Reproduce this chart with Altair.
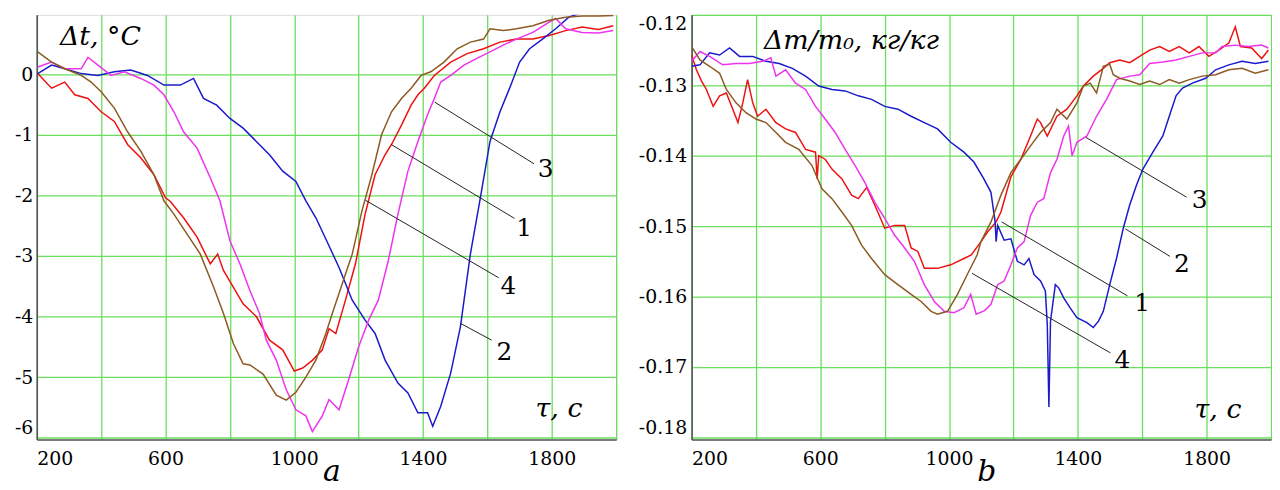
import altair as alt
import pandas as pd

SERIF = "DejaVu Serif"
GREEN = "#6ade5c"
AXISGRAY = "#555555"

CURVE_NAMES = ["1", "2", "3", "4"]
CURVE_COLORS = ["#ee1111", "#1a1acc", "#ee33ee", "#8c5a22"]

GRID_X = [200, 400, 600, 800, 1000, 1200, 1400, 1600, 1800, 2000]
LABEL_X = [200, 600, 1000, 1400, 1800]

# ---------------- panel a : Δt, °C ----------------
A_Y_TICKS = [-6, -5, -4, -3, -2, -1, 0]
A_Y_DOMAIN = [-6.03, 0.98]

A1 = [(203, 0.01), (246, -0.23), (287, -0.13), (318, -0.34), (359, -0.40), (400, -0.62), (441, -0.78),
      (482, -1.16), (523, -1.38), (564, -1.66), (600, -2.04), (615, -2.10), (656, -2.37), (698, -2.69),
      (739, -3.13), (762, -2.97), (780, -3.24), (800, -3.42), (841, -3.79), (882, -4.00), (923, -4.39),
      (964, -4.55), (1000, -4.90), (1026, -4.85), (1057, -4.72), (1087, -4.55), (1108, -4.20),
      (1129, -4.28), (1159, -3.73), (1190, -3.13), (1220, -2.31), (1251, -1.66), (1282, -1.33),
      (1302, -1.16), (1333, -0.84), (1363, -0.51), (1384, -0.34), (1404, -0.23), (1435, -0.02),
      (1486, 0.20), (1537, 0.34), (1588, 0.42), (1639, 0.53), (1690, 0.58), (1741, 0.58), (1792, 0.64),
      (1843, 0.72), (1894, 0.78), (1945, 0.74), (1991, 0.80)]
A2 = [(203, 0.01), (246, 0.15), (287, 0.09), (338, 0.01), (390, -0.02), (441, 0.04), (492, 0.07),
      (544, -0.02), (595, -0.18), (646, -0.18), (687, -0.07), (718, -0.40), (759, -0.51), (800, -0.73),
      (841, -0.89), (882, -1.11), (923, -1.33), (964, -1.60), (1005, -1.77), (1036, -2.09), (1067, -2.37),
      (1098, -2.72), (1139, -3.19), (1180, -3.73), (1220, -4.06), (1251, -4.28), (1282, -4.72),
      (1322, -5.10), (1353, -5.26), (1384, -5.59), (1414, -5.59), (1430, -5.81), (1455, -5.48),
      (1486, -4.93), (1516, -4.17), (1547, -2.97), (1578, -2.04), (1608, -1.11), (1639, -0.62),
      (1669, -0.23), (1700, 0.20), (1731, 0.42), (1771, 0.58), (1812, 0.75), (1853, 0.94), (1884, 1.00),
      (1910, 1.05)]
A3 = [(203, 0.12), (246, 0.20), (287, 0.09), (338, 0.09), (359, 0.28), (390, 0.15), (431, -0.02),
      (472, 0.04), (523, -0.07), (564, -0.18), (595, -0.34), (626, -0.62), (656, -0.95), (698, -1.22),
      (739, -1.71), (769, -2.09), (800, -2.75), (831, -3.13), (862, -3.57), (892, -3.95), (913, -4.39),
      (944, -4.72), (975, -5.21), (1005, -5.54), (1036, -5.64), (1056, -5.90), (1087, -5.64),
      (1108, -5.37), (1139, -5.54), (1169, -5.04), (1200, -4.50), (1231, -4.06), (1261, -3.73),
      (1292, -3.08), (1322, -2.31), (1353, -1.60), (1384, -1.11), (1414, -0.67), (1435, -0.40),
      (1455, -0.13), (1486, -0.02), (1527, 0.15), (1567, 0.26), (1608, 0.37), (1649, 0.48), (1690, 0.58),
      (1741, 0.69), (1792, 0.86), (1812, 0.92), (1843, 0.75), (1894, 0.69), (1945, 0.68), (1991, 0.72)]
A4 = [(203, 0.37), (246, 0.20), (287, 0.09), (338, -0.02), (369, -0.13), (400, -0.29), (441, -0.56),
      (482, -0.95), (523, -1.27), (564, -1.66), (595, -2.09), (626, -2.31), (667, -2.64), (708, -2.97),
      (749, -3.51), (780, -3.95), (811, -4.45), (841, -4.78), (862, -4.80), (903, -4.95), (944, -5.30),
      (975, -5.38), (1005, -5.25), (1036, -5.00), (1067, -4.72), (1098, -4.28), (1118, -3.95),
      (1149, -3.46), (1180, -2.97), (1210, -2.26), (1241, -1.66), (1271, -1.00), (1302, -0.62),
      (1333, -0.40), (1363, -0.23), (1394, -0.02), (1424, 0.04), (1465, 0.20), (1506, 0.42), (1547, 0.53),
      (1588, 0.58), (1608, 0.75), (1649, 0.72), (1690, 0.75), (1741, 0.80), (1792, 0.89), (1843, 0.94),
      (1894, 0.96), (1945, 0.96), (1991, 0.97)]

# leader lines: curve, x start, y start, x end, y end ; number label position
A_LEADERS = [("3", 1436, -0.46, 1745, -1.48), ("1", 1301, -1.16, 1684, -2.38),
             ("4", 1221, -2.08, 1635, -3.36), ("2", 1515, -4.11, 1613, -4.39)]
A_NUMBERS = [("3", 1781, -1.56), ("1", 1714, -2.54), ("4", 1665, -3.49), ("2", 1653, -4.59)]
A_TITLE_TOP = [("Δt, °C", 272, 0.49)]
A_TITLE_BOTTOM = [("τ, c", 1895, -5.66)]

# ---------------- panel b : Δm/m0, кг/кг ----------------
B_Y_TICKS = [-0.18, -0.17, -0.16, -0.15, -0.14, -0.13, -0.12]
B_Y_DOMAIN = [-0.1803, -0.12]

B1 = [(200, -0.1257), (215, -0.1278), (231, -0.1294), (246, -0.1306), (267, -0.1330), (287, -0.1315),
      (308, -0.1311), (328, -0.1334), (344, -0.1353), (359, -0.1325), (374, -0.1292), (390, -0.1325),
      (405, -0.1344), (431, -0.1334), (462, -0.1353), (492, -0.1362), (523, -0.1367), (554, -0.1391),
      (585, -0.1395), (590, -0.1433), (595, -0.1400), (615, -0.1405), (636, -0.1419), (667, -0.1433),
      (697, -0.1456), (718, -0.1461), (744, -0.1445), (769, -0.1470), (800, -0.1503), (831, -0.1499),
      (862, -0.1499), (882, -0.1531), (903, -0.1536), (923, -0.1560), (964, -0.1560), (1005, -0.1555),
      (1046, -0.1546), (1069, -0.1541), (1099, -0.1522), (1120, -0.1508), (1146, -0.1494),
      (1161, -0.1480), (1192, -0.1430), (1223, -0.1405), (1253, -0.1372), (1274, -0.1348),
      (1284, -0.1353), (1305, -0.1372), (1335, -0.1344), (1366, -0.1334), (1397, -0.1315),
      (1417, -0.1301), (1448, -0.1287), (1479, -0.1276), (1499, -0.1268), (1530, -0.1264),
      (1561, -0.1268), (1592, -0.1259), (1623, -0.1250), (1654, -0.1245), (1684, -0.1252),
      (1715, -0.1245), (1746, -0.1254), (1776, -0.1245), (1807, -0.1259), (1838, -0.1250),
      (1869, -0.1240), (1889, -0.1217), (1905, -0.1245), (1940, -0.1247), (1971, -0.1262),
      (1992, -0.1250)]
B2 = [(200, -0.1273), (226, -0.1271), (256, -0.1254), (287, -0.1257), (318, -0.1247), (349, -0.1259),
      (390, -0.1259), (431, -0.1266), (472, -0.1269), (513, -0.1276), (554, -0.1287), (595, -0.1301),
      (636, -0.1306), (677, -0.1308), (718, -0.1315), (759, -0.1320), (800, -0.1330), (841, -0.1334),
      (882, -0.1344), (923, -0.1353), (964, -0.1362), (1005, -0.1381), (1046, -0.1395), (1077, -0.1409),
      (1108, -0.1433), (1130, -0.1452), (1143, -0.1494), (1146, -0.1522), (1151, -0.1499),
      (1171, -0.1520), (1192, -0.1518), (1212, -0.1550), (1233, -0.1555), (1248, -0.1546),
      (1264, -0.1569), (1284, -0.1578), (1299, -0.1592), (1305, -0.1640), (1310, -0.1757),
      (1315, -0.1635), (1330, -0.1583), (1341, -0.1588), (1356, -0.1602), (1376, -0.1616),
      (1397, -0.1630), (1428, -0.1637), (1448, -0.1644), (1464, -0.1635), (1479, -0.1621),
      (1499, -0.1583), (1520, -0.1546), (1541, -0.1503), (1561, -0.1470), (1582, -0.1442),
      (1602, -0.1419), (1633, -0.1395), (1664, -0.1372), (1684, -0.1344), (1705, -0.1315),
      (1725, -0.1304), (1756, -0.1297), (1797, -0.1290), (1828, -0.1278), (1869, -0.1271),
      (1910, -0.1266), (1951, -0.1269), (1992, -0.1266)]
B3 = [(200, -0.1266), (226, -0.1252), (256, -0.1259), (297, -0.1271), (338, -0.1269), (379, -0.1269),
      (421, -0.1266), (446, -0.1261), (462, -0.1287), (492, -0.1278), (523, -0.1297), (554, -0.1306),
      (585, -0.1330), (615, -0.1348), (646, -0.1367), (677, -0.1391), (708, -0.1414), (738, -0.1438),
      (769, -0.1466), (800, -0.1489), (831, -0.1513), (862, -0.1531), (892, -0.1550), (923, -0.1583),
      (954, -0.1607), (985, -0.1621), (1015, -0.1623), (1046, -0.1616), (1067, -0.1597),
      (1084, -0.1625), (1110, -0.1620), (1130, -0.1611), (1151, -0.1583), (1171, -0.1578),
      (1192, -0.1555), (1212, -0.1531), (1233, -0.1522), (1253, -0.1485), (1274, -0.1466),
      (1294, -0.1461), (1315, -0.1424), (1335, -0.1405), (1356, -0.1372), (1371, -0.1358),
      (1382, -0.1400), (1397, -0.1381), (1428, -0.1372), (1458, -0.1344), (1489, -0.1320),
      (1520, -0.1292), (1561, -0.1287), (1592, -0.1285), (1623, -0.1269), (1664, -0.1267),
      (1705, -0.1264), (1746, -0.1259), (1787, -0.1254), (1828, -0.1254), (1848, -0.1245),
      (1889, -0.1243), (1930, -0.1245), (1971, -0.1243), (1992, -0.1247)]
B4 = [(200, -0.1245), (226, -0.1264), (256, -0.1273), (287, -0.1283), (308, -0.1306), (338, -0.1325),
      (369, -0.1339), (400, -0.1348), (431, -0.1353), (462, -0.1367), (492, -0.1381), (533, -0.1391),
      (574, -0.1414), (605, -0.1447), (636, -0.1461), (667, -0.1480), (697, -0.1499), (728, -0.1527),
      (759, -0.1546), (800, -0.1569), (841, -0.1583), (882, -0.1597), (913, -0.1607), (944, -0.1621),
      (964, -0.1625), (995, -0.1621), (1026, -0.1597), (1056, -0.1569), (1087, -0.1541),
      (1099, -0.1522), (1130, -0.1494), (1161, -0.1456), (1192, -0.1424), (1223, -0.1405),
      (1253, -0.1386), (1284, -0.1367), (1315, -0.1353), (1335, -0.1334), (1366, -0.1348),
      (1397, -0.1325), (1417, -0.1301), (1438, -0.1297), (1458, -0.1311), (1479, -0.1273),
      (1499, -0.1270), (1510, -0.1285), (1530, -0.1290), (1561, -0.1294), (1592, -0.1299),
      (1623, -0.1294), (1654, -0.1299), (1684, -0.1292), (1715, -0.1297), (1746, -0.1292),
      (1787, -0.1287), (1828, -0.1285), (1869, -0.1278), (1910, -0.1276), (1951, -0.1283),
      (1992, -0.1278)]

B_LEADERS = [("3", 1425, -0.1374, 1738, -0.1459), ("2", 1548, -0.1504, 1686, -0.1543),
             ("1", 1163, -0.1494, 1554, -0.1599), ("4", 1071, -0.1567, 1501, -0.1680)]
B_NUMBERS = [("3", 1778, -0.1463), ("2", 1723, -0.1554), ("1", 1600, -0.1609), ("4", 1538, -0.1690)]
B_TITLE_TOP = [("Δm/m₀, кг/кг", 425, -0.1248)]
B_TITLE_BOTTOM = [("τ, c", 1908, -0.1772)]


def curves_frame(curves):
    rows = []
    for name, pts in zip(CURVE_NAMES, curves):
        for i, (x, y) in enumerate(pts):
            rows.append({"curve": name, "x": x, "y": y, "i": i})
    return pd.DataFrame(rows)


def text_layer(rows, size, align, italic=True):
    tdf = pd.DataFrame(rows, columns=["t", "x", "y"])
    kw = dict(font=SERIF, fontSize=size, color="black", align=align, baseline="alphabetic")
    if italic:
        kw["fontStyle"] = "italic"
    return alt.Chart(tdf).mark_text(**kw).encode(x="x:Q", y="y:Q", text="t:N")


def panel(curves, leaders, numbers, top_title, bottom_title, ydomain, yticks, ylabel_expr,
          ylabpad, panel_letter):
    df = curves_frame(curves)
    xscale = alt.Scale(domain=[200, 2000], nice=False, zero=False)
    yscale = alt.Scale(domain=ydomain, nice=False, zero=False)
    xaxis = alt.Axis(values=GRID_X, grid=True, gridColor=GREEN, gridWidth=1.3, gridOpacity=1,
                     domainColor=AXISGRAY, domainWidth=1.6, ticks=False, tickSize=0,
                     labelExpr="indexof(%s, datum.value) >= 0 ? datum.value + '' : ''" % LABEL_X,
                     labelFont=SERIF, labelFontSize=19, labelColor="black", labelPadding=10,
                     labelFlush=5, labelOverlap=False,
                     title=panel_letter, titleFont=SERIF, titleFontSize=30, titleFontStyle="italic",
                     titleFontWeight="normal", titleColor="black", titleX=297, titleY=41,
                     titleBaseline="alphabetic")
    yaxis = alt.Axis(values=yticks, grid=True, gridColor=GREEN, gridWidth=1.3, gridOpacity=1,
                     domainColor=AXISGRAY, domainWidth=1.6, ticks=False, tickSize=0,
                     labelExpr=ylabel_expr, labelFont=SERIF, labelFontSize=19, labelColor="black",
                     labelPadding=ylabpad, labelFlush=5, labelOverlap=False, title=None)
    lines = alt.Chart(df).mark_line(strokeWidth=1.5, clip=True).encode(
        x=alt.X("x:Q", scale=xscale, axis=xaxis),
        y=alt.Y("y:Q", scale=yscale, axis=yaxis),
        color=alt.Color("curve:N", scale=alt.Scale(domain=CURVE_NAMES, range=CURVE_COLORS), legend=None),
        order="i:Q",
    )
    ldf = pd.DataFrame(leaders, columns=["curve", "x", "y", "x2", "y2"])
    rules = alt.Chart(ldf).mark_rule(color="#222222", strokeWidth=1).encode(
        x="x:Q", y="y:Q", x2="x2:Q", y2="y2:Q")
    ndf = pd.DataFrame(numbers, columns=["t", "x", "y"])
    nums = alt.Chart(ndf).mark_text(font=SERIF, fontSize=25, color="black", align="center",
                                    baseline="middle").encode(x="x:Q", y="y:Q", text="t:N")
    top = text_layer(top_title, 27, "left")
    bottom = text_layer(bottom_title, 27, "right")
    return alt.layer(lines, rules, nums, top, bottom).properties(width=584, height=428)


left = panel([A1, A2, A3, A4], A_LEADERS, A_NUMBERS, A_TITLE_TOP, A_TITLE_BOTTOM, A_Y_DOMAIN,
             A_Y_TICKS, "replace(format(datum.value, 'd'), '\u2212', '-')", 4, "a")
right = panel([B1, B2, B3, B4], B_LEADERS, B_NUMBERS, B_TITLE_TOP, B_TITLE_BOTTOM, B_Y_DOMAIN,
              B_Y_TICKS, "replace(format(datum.value, '.2f'), '\u2212', '-')", 5, "b")

chart = alt.hconcat(left, right, spacing=20).properties(
    padding={"left": 5, "top": 4, "right": 0, "bottom": 0}
).configure_view(stroke="#8a8a8a", strokeWidth=1).configure(background="white")

chart.save("out.html", embed_options={"renderer": "svg", "actions": False})
